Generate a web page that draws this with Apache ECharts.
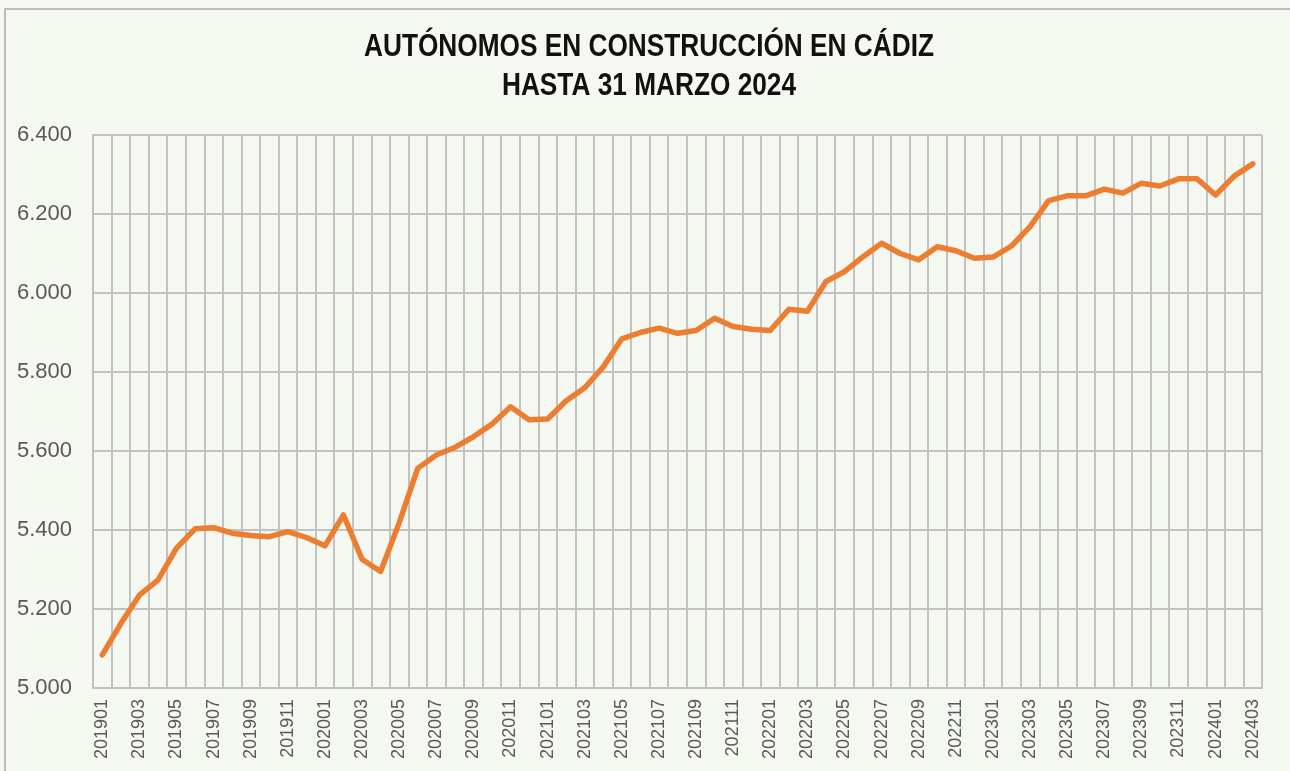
<!DOCTYPE html>
<html>
<head>
<meta charset="utf-8">
<script src="https://cdn.jsdelivr.net/npm/echarts@6/dist/echarts.min.js"></script>
<style>
  html, body { margin: 0; padding: 0; background: #f4f8f1; }
  #chart { width: 1290px; height: 771px; }
</style>
</head>
<body>
<div id="chart"></div>
<script>
// Monthly periods (YYYYMM)
const periods = [
  '201901','201902','201903','201904','201905','201906','201907','201908','201909','201910','201911','201912',
  '202001','202002','202003','202004','202005','202006','202007','202008','202009','202010','202011','202012',
  '202101','202102','202103','202104','202105','202106','202107','202108','202109','202110','202111','202112',
  '202201','202202','202203','202204','202205','202206','202207','202208','202209','202210','202211','202212',
  '202301','202302','202303','202304','202305','202306','202307','202308','202309','202310','202311','202312',
  '202401','202402','202403'
];

// Self-employed workers in construction, Cádiz
const autonomos = [
  5084, 5163, 5235, 5273, 5354, 5403, 5406, 5392, 5386, 5383, 5396, 5381,
  5360, 5438, 5326, 5295, 5418, 5556, 5590, 5609, 5636, 5668, 5712, 5679,
  5681, 5727, 5760, 5813, 5884, 5900, 5911, 5898, 5905, 5936, 5915, 5908,
  5905, 5959, 5954, 6029, 6054, 6092, 6126, 6100, 6084, 6117, 6107, 6088,
  6091, 6119, 6168, 6234, 6246, 6246, 6263, 6253, 6278, 6271, 6289, 6289,
  6248, 6296, 6327
];

const yMin = 5000, yMax = 6400, yStep = 200;
const titleLines = ['AUTÓNOMOS EN CONSTRUCCIÓN EN CÁDIZ', 'HASTA 31 MARZO 2024'];

const sans = '"Liberation Sans", Arial, sans-serif';
const fmt = v => v.toFixed(0).replace(/\B(?=(\d{3})+(?!\d))/g, '.');

// Condensed bold title lines (horizontally squeezed)
const titleGraphics = titleLines.map((t, i) => ({
  type: 'text',
  x: 649,
  y: 47 + i * 39,
  scaleX: 0.82,
  silent: true,
  style: {
    text: t,
    font: 'bold 32px ' + sans,
    fill: '#111111',
    textAlign: 'center',
    textVerticalAlign: 'middle'
  }
}));

const chart = echarts.init(document.getElementById('chart'), null, { renderer: 'canvas' });
chart.setOption({
  backgroundColor: '#f4f8f1',
  animation: false,
  graphic: [
    {
      type: 'polyline',
      shape: { points: [[5, 780], [5, 9], [1300, 9]] },
      style: { stroke: '#bdbdbd', lineWidth: 2, fill: null },
      silent: true
    }
  ].concat(titleGraphics),
  grid: { left: 93, right: 28, top: 135, bottom: 83, containLabel: false },
  xAxis: {
    type: 'category',
    data: periods,
    boundaryGap: true,
    axisLine: { show: true, lineStyle: { color: '#bfbfbf', width: 2 } },
    axisTick: { show: false },
    axisLabel: {
      interval: 1,
      rotate: 90,
      margin: 11,
      fontFamily: sans,
      fontSize: 18,
      color: '#595959'
    },
    splitLine: { show: true, interval: 0, lineStyle: { color: '#c2c2c2', width: 2 } }
  },
  yAxis: {
    type: 'value',
    min: yMin,
    max: yMax,
    interval: yStep,
    axisLine: { show: true, lineStyle: { color: '#bfbfbf', width: 2 } },
    axisTick: { show: false },
    axisLabel: {
      margin: 21,
      fontFamily: sans,
      fontSize: 22,
      color: '#595959',
      formatter: fmt
    },
    splitLine: { show: true, lineStyle: { color: '#c2c2c2', width: 2 } }
  },
  series: [
    {
      name: 'Autónomos',
      type: 'line',
      data: autonomos,
      showSymbol: false,
      symbol: 'none',
      lineStyle: { color: '#ed7d31', width: 5.5, join: 'round', cap: 'round' },
      itemStyle: { color: '#ed7d31' }
    }
  ]
});
</script>
</body>
</html>
